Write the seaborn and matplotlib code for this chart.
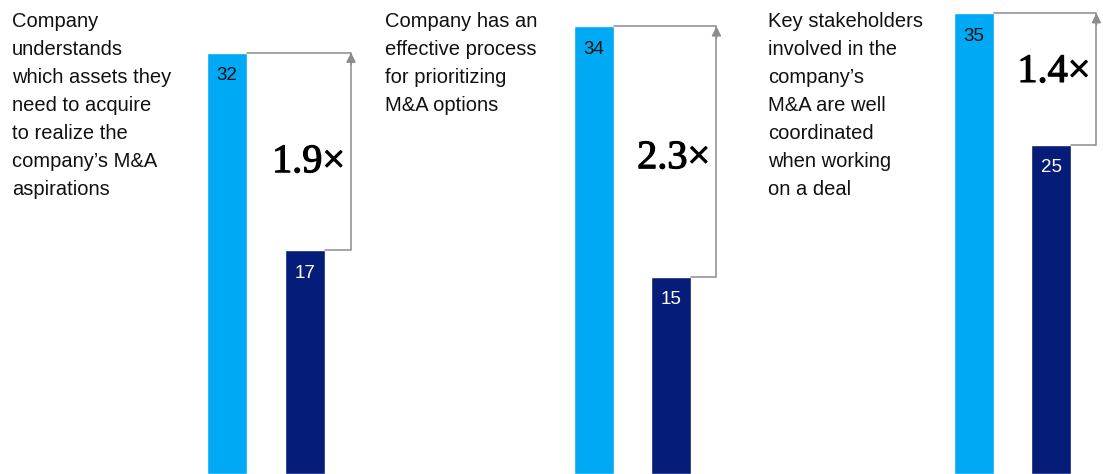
import matplotlib
matplotlib.use("Agg")
import matplotlib.pyplot as plt
import matplotlib.patheffects as pe
import seaborn as sns
import pandas as pd

# ---- data ----
statements = [
    "Company\nunderstands\nwhich assets they\nneed to acquire\nto realize the\ncompany\u2019s M&A\naspirations",
    "Company has an\neffective process\nfor prioritizing\nM&A options",
    "Key stakeholders\ninvolved in the\ncompany\u2019s\nM&A are well\ncoordinated\nwhen working\non a deal",
]
groups = ["High", "Low"]
high_values = [32, 34, 35]
low_values = [17, 15, 25]
multipliers = ["1.9\u00d7", "2.3\u00d7", "1.4\u00d7"]

LIGHT = "#00A9F4"
DARK = "#051D78"
GRAY = "#8C8C8C"

sns.set_theme(style="white")
plt.rcParams["font.family"] = ["Liberation Sans", "DejaVu Sans"]

W, H = 1103, 474
fig = plt.figure(figsize=(W / 100, H / 100), dpi=100)

# layout in pixels (positions only)
bar_centers = [227, 594, 974]   # centre of first bar in each panel
spacing = [78, 77, 77]
text_x = [12, 385, 768]
mult_shift = [-0.85, -0.55, 0.5]
bar_px = 40
ymax = 36.0

for i in range(3):
    c, s = bar_centers[i], spacing[i]
    left = (c - s / 2) / W
    ax = fig.add_axes([left, 0, 2 * s / W, 1])
    df = pd.DataFrame({"group": groups, "value": [high_values[i], low_values[i]]})
    sns.barplot(data=df, x="group", y="value", hue="group",
                palette=[LIGHT, DARK], width=bar_px / s, ax=ax,
                legend=False, saturation=1)
    ax.set_xlim(-0.5, 1.5)
    ax.set_ylim(0, ymax)
    ax.axis("off")

    hw = bar_px / s / 2
    hi, lo = high_values[i], low_values[i]
    xb = 1.59
    ax.plot([hw, xb, xb, 1 + hw], [hi, hi, lo, lo], color=GRAY, lw=1.1,
            clip_on=False, solid_joinstyle="miter")
    ax.annotate("", xy=(xb, hi), xytext=(xb, hi - 0.9),
                arrowprops=dict(arrowstyle="-|>", color=GRAY, lw=1.1,
                                mutation_scale=14, shrinkA=0, shrinkB=0),
                annotation_clip=False)

    # value labels
    ax.text(0, hi - 1.75, str(hi), ha="center", va="center", fontsize=13.5,
            color="#111111")
    ax.text(1, lo - 1.75, str(lo), ha="center", va="center", fontsize=13.5,
            color="white")

    # multiplier
    ax.text(xb - 0.08, (hi + lo) / 2 + mult_shift[i],
            multipliers[i], ha="right", va="center", fontsize=29,
            family=["Liberation Serif", "DejaVu Serif"], color="black",
            path_effects=[pe.withStroke(linewidth=0.9, foreground="black")])

    # statement text
    fig.text(text_x[i] / W, 1 - 12 / H, statements[i], ha="left", va="top",
             fontsize=14.5, linespacing=1.6, color="#111111")

fig.savefig("out.png", dpi=100)
